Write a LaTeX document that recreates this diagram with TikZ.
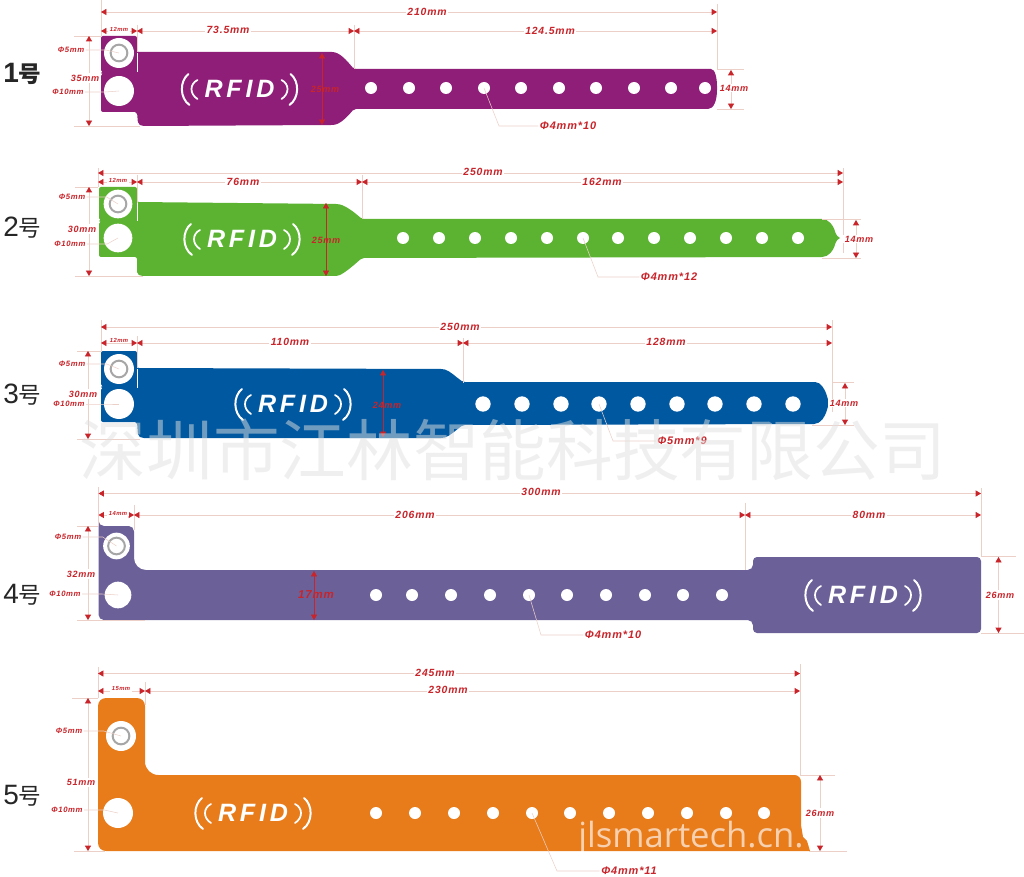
\documentclass[tikz,border=0pt]{standalone}
\usepackage{fontspec}
\usetikzlibrary{arrows.meta}
\setmainfont{Liberation Sans}
\newfontfamily\dimfont[LetterSpace=8]{Liberation Sans}
\newfontfamily\rfidfont[LetterSpace=15]{Liberation Sans}
\newfontfamily\cjkfont{Noto Sans CJK SC}
\newfontfamily\webfont{Open Sans}
\definecolor{bandpurple}{RGB}{142,30,120}
\definecolor{bandgreen}{RGB}{92,179,50}
\definecolor{bandblue}{RGB}{0,88,160}
\definecolor{bandslate}{RGB}{108,96,153}
\definecolor{bandorange}{RGB}{232,123,26}
\definecolor{dimred}{RGB}{200,36,42}
\definecolor{dimpink}{RGB}{236,208,200}
\tikzset{
    bighole/.style={circle,fill=white,inner sep=0pt,minimum size=22.5pt},
    stud/.style={circle,fill=white,inner sep=0pt,minimum size=9pt},
    bigstud/.style={circle,fill=white,inner sep=0pt,minimum size=11.5pt},
    ring/.style={circle,draw=black!35,line width=1.5pt,inner sep=0pt,minimum size=12.5pt},
    dimline/.style={draw=dimpink,line width=.5pt,{Triangle[length=4pt,width=4.5pt,color=dimred]}-{Triangle[length=4pt,width=4.5pt,color=dimred]}},
    bandline/.style={dimline,draw=dimred,line width=.25pt},
    extline/.style={draw=dimpink,line width=.5pt},
    leader/.style={draw=dimpink,line width=.4pt},
    dimlabel/.style={text=dimred,fill=white,inner sep=1pt,font=\dimfont\bfseries\itshape\fontsize{7.8}{8}\selectfont},
    sidelabel/.style={dimlabel,font=\dimfont\bfseries\itshape\fontsize{6.8}{7}\selectfont},
    holelabel/.style={dimlabel,font=\dimfont\bfseries\itshape\fontsize{5.8}{6}\selectfont},
    ticklabel/.style={dimlabel,font=\dimfont\bfseries\itshape\fontsize{4.4}{5}\selectfont},
    striplabel/.style={dimlabel,font=\dimfont\bfseries\itshape\fontsize{8.2}{9}\selectfont},
    bandlabel/.style={sidelabel,fill=none},
    widelabel/.style={dimlabel,fill=none,font=\dimfont\bfseries\itshape\fontsize{8.6}{9}\selectfont},
    numlabel/.style={anchor=base west,inner sep=0pt,text=black!85,font=\fontsize{21}{22}\selectfont},
}
\newcommand{\hao}{{\cjkfont\fontsize{17}{18}\selectfont 号}}
% logo with the two pairs of waves
\newcommand{\rfidmark}[3]{%
    \node[text=white,inner sep=0pt,font=\rfidfont\bfseries\itshape\fontsize{18.8}{20}\selectfont] (#3) at (#1,#2) {RFID};
    \begin{scope}[shift={(#1,#2)},draw=white,line cap=round]
        \draw[line width=1.5pt] (-51,-15) .. controls (-60,-8) and (-60,9) .. (-50,16);
        \draw[line width=1.3pt] (-42,-9) .. controls (-50,-5) and (-50,5) .. (-42,10);
        \draw[line width=1.5pt] (51,-15) .. controls (60,-8) and (60,9) .. (50,16);
        \draw[line width=1.3pt] (42,-9) .. controls (50,-5) and (50,5) .. (42,10);
    \end{scope}
}

\begin{document}
\begin{tikzpicture}[x=.75pt,y=-.75pt]
    \useasboundingbox (0,0) rectangle (1024,877);

    % the five bands
    \fill[bandpurple,rounded corners=1.5pt] (101,36) -- (137,36) -- (137,52) -- (330,52)
        .. controls (340,52) and (347,61) .. (354,69) -- (709,69)
        .. controls (715,69) and (717,78) .. (717,88)
        .. controls (717,100) and (714,109) .. (706,109) -- (354,109)
        .. controls (347,117) and (340,125) .. (330,125) -- (142,126) -- (138,124)
        -- (137,112) -- (101,112) -- (101,74) -- (103,73) -- (101,72) -- cycle;
    \fill[bandgreen,rounded corners=1.5pt] (99,187) -- (137,187) -- (137,202) -- (338,204)
        .. controls (346,206) and (354,212) .. (362,219) -- (820,219)
        .. controls (829,219) and (833,226) .. (835,231)
        .. controls (836,235) and (838,237) .. (841,238)
        .. controls (838,239) and (836,241) .. (835,245)
        .. controls (833,250) and (829,257) .. (820,257) -- (362,258)
        .. controls (354,265) and (346,272) .. (338,276) -- (141,276) -- (137,274)
        -- (137,257) -- (99,257) -- (99,222) -- (101,221) -- (99,220) -- cycle;
    \fill[bandblue,rounded corners=1.5pt] (101,351) -- (137,351) -- (137,368) -- (443,369)
        .. controls (450,371) and (456,377) .. (463,382) -- (813,382)
        .. controls (821,382) and (825,390) .. (827,396)
        .. controls (828,400) and (829,402) .. (831,403)
        .. controls (829,404) and (828,406) .. (827,410)
        .. controls (825,416) and (821,424) .. (812,424) -- (463,425)
        .. controls (456,430) and (450,436) .. (443,438) -- (142,438) -- (138,436)
        -- (137,422) -- (101,422) -- (101,388) -- (103,387) -- (101,386) -- cycle;
    \fill[bandslate] (98.5,526) [rounded corners=4pt] -- (134,526) [rounded corners=9pt] -- (134,570)
        [rounded corners=4pt] -- (753,570) [rounded corners=3pt] -- (753,557) -- (981,557) -- (981,633)
        -- (753,633) [rounded corners=4pt] -- (753,620) -- (98.5,620) -- (98.5,526) -- cycle;
    \fill[bandorange] (98,720) [rounded corners=6pt] -- (98,698) -- (145,698) [rounded corners=10pt] -- (145,775)
        [rounded corners=5pt] -- (801,775) [sharp corners] -- (801,825) -- (803,837) -- (807,841) -- (810,851)
        [rounded corners=6pt] -- (98,851) -- (98,720) -- cycle;

    % slits between tab and body
    \draw[white,line width=.4pt] (137.4,53) -- (137.4,72);
    \draw[white,line width=.4pt] (137.4,203) -- (137.4,221);
    \draw[white,line width=.4pt] (137.4,369) -- (137.4,388);

    % eyelets and fastening holes
    \foreach \k/\xa/\ya/\xb/\yb/\sz in {1/119/53/119/91/22.5pt, 2/118/204/118/238/21.5pt, 3/119/369/119/404/22.5pt, 4/116.5/546/118/595/20pt, 5/121/736/118/813/22.5pt} {
        \node[bighole,minimum size=\sz] (big\k a) at (\xa,\ya) {};
        \node[bighole,minimum size=\sz] (big\k b) at (\xb,\yb) {};
        \node[ring] (ring\k) at (\xa,\ya) {};
    }
    \foreach \x [count=\n] in {371,409,446,484,521,559,596,634,671,705}
        \node[stud] (s1n\n) at (\x,88) {};
    \foreach \x [count=\n] in {403,439,475,511,547,583,618,654,690,726,762,798}
        \node[stud] (s2n\n) at (\x,238) {};
    \foreach \x [count=\n] in {483,522,561,599,638,677,715,754,793}
        \node[bigstud] (s3n\n) at (\x,404) {};
    \foreach \x [count=\n] in {376,412,451,490,529,567,606,645,683,722}
        \node[stud] (s4n\n) at (\x,595) {};
    \foreach \x [count=\n] in {376,415,454,493,532,570,609,648,687,726,764}
        \node[stud] (s5n\n) at (\x,813) {};

    \rfidmark{239.5}{89}{rfid1}
    \rfidmark{242}{239}{rfid2}
    \rfidmark{293}{404}{rfid3}
    \rfidmark{863}{595}{rfid4}
    \rfidmark{253}{813}{rfid5}

    % extension lines
    \foreach \xa/\ya/\xb/\yb in {
        101/0/101/36, 137/25/137/52, 354/25/354/69, 717/4/717/69,
        74/36/101/36, 74/126/140/126, 717/69/744/69, 717/109/744/109,
        98/168/98/187, 137/175/137/203, 362/175/362/219, 843/168/843/253,
        75/187/98/187, 75/276/143/276, 822/219/861/219, 822/258/861/258,
        101/320/101/351, 137/336/137/368, 463/338/463/383, 832/320/832/412,
        77/351/101/351, 77/439/140/439, 832/382/854/382, 812/425/854/425,
        98.5/487/98.5/526, 134/505/134/530, 745/503/745/570, 981/488/981/557,
        77/526/98/526, 77/620/145/620, 981/556/1016/556, 981/633/1024/633,
        98/667/98/698, 145/682/145/705, 800.5/664/800.5/775,
        72/698/98/698, 74/851/105/851, 800/775/835/775, 809/851/847/851} {
        \coordinate (ea) at (\xa,\ya);
        \coordinate (eb) at (\xb,\yb);
        \draw[extline] (ea) -- (eb);
    }

    % dimension lines
    \foreach \n/\xa/\ya/\xb/\yb/\lx/\ly/\ls/\st/\txt in {
        a1/101/12/717/12/427/12/dimline/dimlabel/210mm,
        a2/101/31/137/31/119/29/dimline/ticklabel/12mm,
        a3/137/31/354/31/228/30/dimline/dimlabel/73.5mm,
        a4/354/31/717/31/550/31/dimline/dimlabel/124.5mm,
        a5/89/36/89/126/85/78/dimline/sidelabel/35mm,
        a6/322/53/322/125/325/89/bandline/bandlabel/25mm,
        a7/731/70/731/109/734/88/dimline/sidelabel/14mm,
        b1/98/173/843/173/483/172/dimline/dimlabel/250mm,
        b2/98/182/137/182/118/180/dimline/ticklabel/12mm,
        b3/137/182/362/182/243/182/dimline/dimlabel/76mm,
        b4/362/182/843/182/602/182/dimline/dimlabel/162mm,
        b5/89/187/89/276/82/229/dimline/sidelabel/30mm,
        b6/326/203/326/276/326/240/bandline/bandlabel/25mm,
        b7/856/220/856/258/859/239/dimline/sidelabel/14mm,
        c1/101/327/832/327/460/327/dimline/dimlabel/250mm,
        c2/101/343/137/343/119/340/dimline/ticklabel/12mm,
        c3/137/343/463/343/290/342/dimline/dimlabel/110mm,
        c4/463/343/832/343/666/342/dimline/dimlabel/128mm,
        c5/88/351/88/439/83/394/dimline/sidelabel/30mm,
        c6/383/370/383/437/387/405/bandline/bandlabel/24mm,
        c7/845/383/845/425/844/403/dimline/sidelabel/14mm,
        d1/98.5/493.5/981/493.5/541/492/dimline/dimlabel/300mm,
        d2/98.5/515/134/515/118/513/dimline/ticklabel/14mm,
        d3/134/515/745/515/415/515/dimline/dimlabel/206mm,
        d4/745/515/981/515/869/515/dimline/dimlabel/80mm,
        d5/88/526/88/620/81/574/dimline/sidelabel/32mm,
        d6/314/571/314/620/316/595/bandline/widelabel/17mm,
        d7/998.5/557/998.5/633/1000/595/dimline/sidelabel/26mm,
        e1/98/673.5/800/673.5/435/673/dimline/dimlabel/245mm,
        e2/98/691/145/691/121/689/dimline/ticklabel/15mm,
        e3/145/691/800/691/448/690/dimline/dimlabel/230mm,
        e4/88/698/88/851/81/782/dimline/sidelabel/51mm,
        e5/820/775/820/851/820/813/dimline/sidelabel/26mm} {
        \coordinate (\n a) at (\xa,\ya);
        \coordinate (\n b) at (\xb,\yb);
        \draw[\ls] (\n a) -- (\n b);
        \node[\st] (\n t) at (\lx,\ly) {\txt};
    }

    % labels of the eyelets
    \foreach \n/\lx/\ly/\hole/\txt in {
        p1/71/50/big1a/Φ5mm, q1/68/92/big1b/Φ10mm,
        p2/72/197/big2a/Φ5mm, q2/70/244/big2b/Φ10mm,
        p3/72/364/big3a/Φ5mm, q3/69/404/big3b/Φ10mm,
        p4/68/537/big4a/Φ5mm, q4/65/594/big4b/Φ10mm,
        p5/69/731/big5a/Φ5mm, q5/67/810/big5b/Φ10mm} {
        \node[holelabel] (\n) at (\lx,\ly) {\txt};
        \draw[leader] (\n.east) -- ++(20,0) -- (\hole.center);
    }

    % labels of the strap holes
    \foreach \n/\hole/\xc/\yc/\lx/\txt in {
        r1/s1n4/499/126/568/Φ4mm*10,
        r2/s2n6/598/277/669/Φ4mm*12,
        r3/s3n4/613/441/682/Φ5mm*9,
        r4/s4n5/541/635/613/Φ4mm*10,
        r5/s5n5/557/871/629/Φ4mm*11} {
        \node[striplabel] (\n) at (\lx,\yc) {\txt};
        \coordinate (\n c) at (\xc,\yc);
        \draw[leader] (\hole.center) -- (\n c) -- (\n.west);
    }

    % size tags
    \foreach \k/\yy in {1/83, 2/237, 3/403, 4/603, 5/804}
        \node[numlabel] (tag\k) at (3,\yy) {\ifnum\k=1 \bfseries\fi\k\hao};

    % watermarks
    \node[inner sep=0pt,text=black!12,text opacity=.5,font=\cjkfont\fontsize{50}{52}\selectfont] (firm) at (513,450) {深圳市江林智能科技有限公司};
    \node[anchor=base west,inner sep=0pt,text=white,text opacity=.65,font=\webfont\fontsize{26}{28}\selectfont] (web) at (578,847) {jlsmartech.cn.};
\end{tikzpicture}
\end{document}
